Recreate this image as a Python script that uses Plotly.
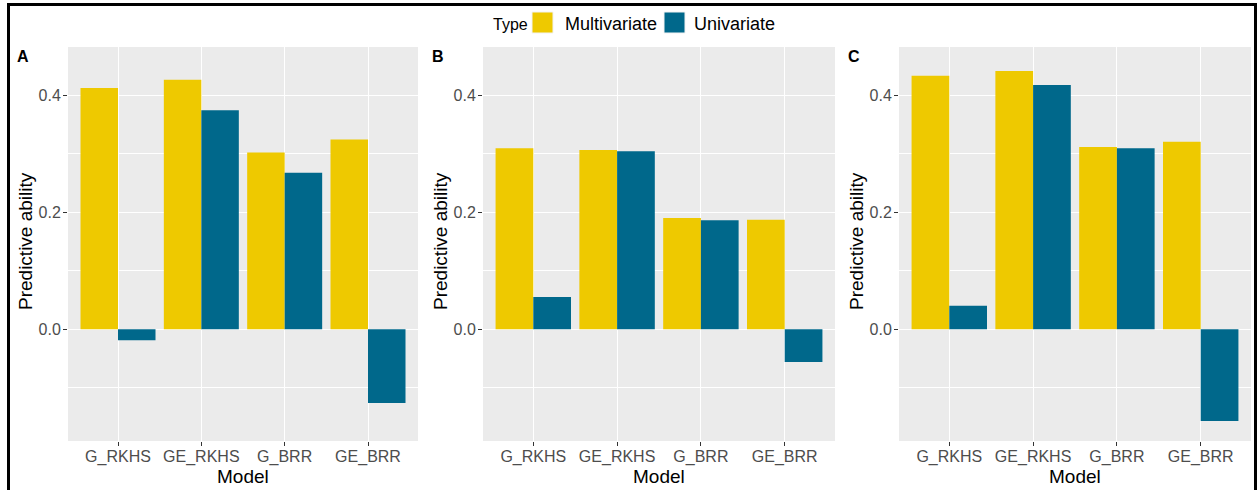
import plotly.graph_objects as go

# Predictive ability per model, for three scenarios (A, B, C)
models = ["G_RKHS", "GE_RKHS", "G_BRR", "GE_BRR"]
panels = ["A", "B", "C"]
multivariate = {
    "A": [0.412, 0.426, 0.302, 0.324],
    "B": [0.309, 0.306, 0.190, 0.187],
    "C": [0.433, 0.441, 0.311, 0.320],
}
univariate = {
    "A": [-0.019, 0.374, 0.267, -0.126],
    "B": [0.055, 0.304, 0.186, -0.056],
    "C": [0.040, 0.417, 0.309, -0.157],
}
type_names = ["Multivariate", "Univariate"]
type_colors = ["#EEC900", "#00688B"]
y_tickvals = [0.0, 0.2, 0.4]
y_ticktext = ["0.0", "0.2", "0.4"]

W, H = 1259, 490
FONT = "Liberation Sans, Arial, sans-serif"

# plot-area boxes in pixels (left, right), shared top/bottom
boxes = [(68, 418), (483, 835), (899, 1251)]
top_px, bot_px = 47, 441
y_range = [-0.191, 0.482]


def px_x(v):
    return v / W


def px_y(v):
    return 1 - v / H


fig = go.Figure()
annotations = []
shapes = []

for i, p in enumerate(panels):
    sfx = "" if i == 0 else str(i + 1)
    xa, ya = "x" + sfx, "y" + sfx
    for name, color, data in zip(type_names, type_colors, (multivariate, univariate)):
        fig.add_trace(go.Bar(
            x=models, y=data[p], name=name, marker=dict(color=color, line=dict(width=0)),
            xaxis=xa, yaxis=ya, showlegend=False, offsetgroup=name,
        ))
    l, r = boxes[i]
    fig.update_layout(**{
        "xaxis" + sfx: dict(
            domain=[px_x(l), px_x(r)], anchor=ya, range=[-0.6, 3.6],
            showgrid=True, gridcolor="white", gridwidth=1.1,
            ticks="outside", ticklen=4, tickcolor="#333333", tickwidth=1,
            ticklabelstandoff=-3,
            tickfont=dict(family=FONT, size=16, color="#4D4D4D"),
            showline=False, zeroline=False, fixedrange=True,
        ),
        "yaxis" + sfx: dict(
            domain=[px_y(bot_px), px_y(top_px)], anchor=xa, range=y_range,
            tickvals=y_tickvals, ticktext=y_ticktext,
            showgrid=True, gridcolor="white", gridwidth=1.1,
            minor=dict(dtick=0.1, tick0=0, showgrid=True, gridcolor="white", gridwidth=0.5),
            ticks="outside", ticklen=4, tickcolor="#333333", tickwidth=1,
            ticklabelstandoff=-1,
            tickfont=dict(family=FONT, size=16, color="#4D4D4D"),
            showline=False, zeroline=False, fixedrange=True,
        ),
    })
    # panel background
    shapes.append(dict(type="rect", xref="paper", yref="paper", layer="below",
                       x0=px_x(l), x1=px_x(r), y0=px_y(bot_px), y1=px_y(top_px),
                       fillcolor="#EBEBEB", line=dict(width=0)))
    # panel tag
    annotations.append(dict(text="<b>%s</b>" % p, xref="paper", yref="paper",
                            x=px_x(l - 53), y=px_y(57), xanchor="left", yanchor="middle",
                            showarrow=False, font=dict(family=FONT, size=16, color="black")))
    # axis titles
    annotations.append(dict(text="Predictive ability", xref="paper", yref="paper",
                            x=px_x(l - 43), y=px_y(241), textangle=-90,
                            xanchor="center", yanchor="middle", showarrow=False,
                            font=dict(family=FONT, size=19, color="black")))
    annotations.append(dict(text="Model", xref="paper", yref="paper",
                            x=px_x((l + r) / 2), y=px_y(476),
                            xanchor="center", yanchor="middle", showarrow=False,
                            font=dict(family=FONT, size=19, color="black")))

# legend drawn across the top
annotations.append(dict(text="Type", xref="paper", yref="paper", x=px_x(491), y=px_y(24),
                        xanchor="left", yanchor="middle", showarrow=False,
                        font=dict(family=FONT, size=16, color="black")))
legend_items = [(532, 563), (664, 692)]
for (kx, tx), name, color in zip(legend_items, type_names, type_colors):
    shapes.append(dict(type="rect", xref="paper", yref="paper",
                       x0=px_x(kx), x1=px_x(kx + 21), y0=px_y(33), y1=px_y(12),
                       fillcolor=color, line=dict(width=1, color="#F2F2F2")))
    annotations.append(dict(text=name, xref="paper", yref="paper", x=px_x(tx), y=px_y(24),
                            xanchor="left", yanchor="middle", showarrow=False,
                            font=dict(family=FONT, size=18, color="black")))

# outer frame
shapes.append(dict(type="rect", xref="paper", yref="paper",
                   x0=px_x(8.5), x1=px_x(1255.5), y0=px_y(500), y1=px_y(4.5),
                   line=dict(color="black", width=3), fillcolor="rgba(0,0,0,0)"))

fig.update_layout(
    width=W, height=H, margin=dict(l=0, r=0, t=0, b=0),
    paper_bgcolor="white", plot_bgcolor="rgba(0,0,0,0)",
    barmode="group", bargap=0.1, bargroupgap=0,
    showlegend=False, shapes=shapes, annotations=annotations,
    font=dict(family=FONT),
)

fig.write_html("out.html")
